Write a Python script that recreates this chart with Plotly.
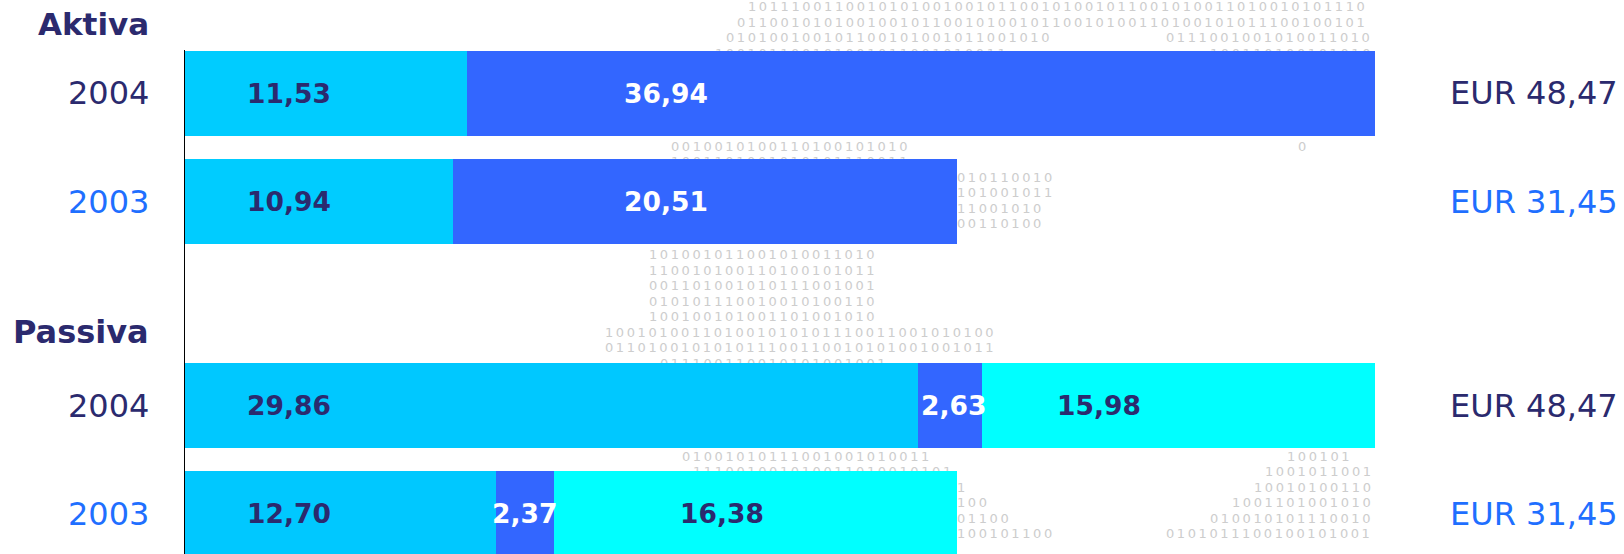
import math
import plotly.graph_objects as go

# ---------------- data ----------------
groups = ["Aktiva", "Passiva"]
years = ["2004", "2003"]

aktiva_seg1 = [11.53, 10.94]
aktiva_seg2 = [36.94, 20.51]

passiva_seg1 = [29.86, 12.70]
passiva_seg2 = [2.63, 2.37]
passiva_seg3 = [15.98, 16.38]

# ---------------- styles ----------------
NAVY = "#2B2A6E"
BLUE_TXT = "#1F6FFF"
year_colors = [NAVY, BLUE_TXT]
C_LIGHT = "#00CCFF"
C_LIGHT_P = "#00C8FF"
C_BLUE = "#3366FF"
C_CYAN = "#00FFFF"
FONT = "DejaVu Sans"

# label offsets (px) from segment start, per group / segment / year
label_dx = {
    "Aktiva": [[61, 61], [155, 169]],
    "Passiva": [[61, 61], [1, -6], [73, 124]],
}
label_white = {
    "Aktiva": [False, True],
    "Passiva": [False, True, False],
}
heading_dy = {"Aktiva": -0.64, "Passiva": -0.68}
heading_size = {"Aktiva": 31, "Passiva": 32}

group_segments = {
    "Aktiva": [(aktiva_seg1, C_LIGHT), (aktiva_seg2, C_BLUE)],
    "Passiva": [(passiva_seg1, C_LIGHT_P), (passiva_seg2, C_BLUE), (passiva_seg3, C_CYAN)],
}

GROUP_STEP = 2.885   # row units between the first rows of the two groups
BAR_W = 0.785
Y_TOP, Y_BOTTOM = -0.8606, 4.255
PX_X0, PX_X1 = 184, 1375      # base (pixel-like) x axis range = plot area
PX_H = 554


def fmt(v):
    return f"{v:.2f}".replace(".", ",")


group_pos = {gname: [i + g * GROUP_STEP for i in range(len(years))] for g, gname in enumerate(groups)}
totals = {gname: [sum(v[i] for v, _ in group_segments[gname]) for i in range(len(years))] for gname in groups}
max_total = max(max(t) for t in totals.values())

fig = go.Figure()

# ---------------- watermark (binary-digit euro sign) on base subplot ----------------
WM_CX, WM_CY = 1110, 287
WM_RXO, WM_RYO = 460, 456
WM_RXI, WM_RYI = 230, 256
WM_OPEN = math.radians(35)
BITS = "1001010011010010101011100110010101001001011001010010110010100110100101011100"
THIN = "\u2009"

# bar rectangles in base-axis units (used only to skip watermark digits hidden by bars)
hidden = []
for gname in groups:
    for i in range(len(years)):
        yc = (group_pos[gname][i] - Y_TOP) / (Y_BOTTOM - Y_TOP) * PX_H
        hh = BAR_W / 2 / (Y_BOTTOM - Y_TOP) * PX_H
        xr = PX_X0 + totals[gname][i] / max_total * (PX_X1 - PX_X0)
        hidden.append((PX_X0, xr, yc - hh, yc + hh))


def in_euro(px, py):
    dx, dy = px - WM_CX, py - WM_CY
    ring = ((dx / WM_RXO) ** 2 + (dy / WM_RYO) ** 2 <= 1
            and (dx / WM_RXI) ** 2 + (dy / WM_RYI) ** 2 >= 1)
    if ring and dx > 0 and abs(math.atan2(dy, dx)) < WM_OPEN:
        ring = False
    bar_a = 165 <= py <= 240 and 600 <= px <= 1062 - (py - 165) * 0.3
    bar_b = 330 <= py <= 360 and 610 <= px <= 1000
    return (ring or bar_a or bar_b) and px <= 1370


def is_hidden(x0, x1, py):
    for (a, b, c, d) in hidden:
        if x0 >= a and x1 <= b + 2 and py - 5 >= c and py + 5 <= d:
            return True
    return False


wm_x, wm_y, wm_t = [], [], []
CHAR_W = 11
k = 0
py = 8.0
while py < 548:
    cells = [550 + CHAR_W * i for i in range(int((1370 - 550) / CHAR_W) + 1)]
    run_start, run_len = None, 0
    off = (k * 7) % len(BITS)
    for cx in cells + [None]:
        inside = (cx is not None and in_euro(cx + CHAR_W / 2, py)
                  and not is_hidden(cx, cx + CHAR_W, py))
        if inside:
            if run_start is None:
                run_start, run_len = cx, 0
            run_len += 1
        elif run_start is not None:
            i0 = off + (run_start - 550) // CHAR_W
            wm_x.append(run_start)
            wm_y.append(py)
            wm_t.append(THIN.join((BITS * 4)[i0:i0 + run_len]))
            run_start = None
    k += 1
    py += 15.5

fig.add_trace(go.Scatter(
    x=wm_x, y=wm_y, text=wm_t, mode="text", textposition="middle right",
    textfont=dict(family="DejaVu Sans", size=13, color="#CDCDCD"),
    cliponaxis=False, hoverinfo="skip", xaxis="x", yaxis="y", showlegend=False,
))

# ---------------- bars ----------------
annotations = []
for gname in groups:
    ypos = group_pos[gname]
    segs = group_segments[gname]
    for s, (vals, col) in enumerate(segs):
        fig.add_trace(go.Bar(
            x=vals, y=ypos, orientation="h", width=BAR_W,
            marker=dict(color=col, line=dict(width=0)),
            xaxis="x2", yaxis="y2", hoverinfo="skip", showlegend=False,
        ))
    for i, yr in enumerate(years):
        start = 0.0
        for s, (vals, col) in enumerate(segs):
            annotations.append(dict(
                x=start, y=ypos[i], xref="x2", yref="y2", xanchor="left", yanchor="middle",
                xshift=label_dx[gname][s][i], text=fmt(vals[i]), showarrow=False,
                font=dict(family=FONT, size=26.5, color="white" if label_white[gname][s] else NAVY,
                          weight="bold"),
            ))
            start += vals[i]
        annotations.append(dict(
            x=0, y=ypos[i], xref="paper", yref="y2", xanchor="right", yanchor="middle",
            xshift=-33, text=yr, showarrow=False,
            font=dict(family=FONT, size=32, color=year_colors[i]),
        ))
        annotations.append(dict(
            x=1, y=ypos[i], xref="paper", yref="y2", xanchor="left", yanchor="middle",
            xshift=73, text="EUR " + fmt(totals[gname][i]), showarrow=False,
            font=dict(family=FONT, size=32, color=year_colors[i]),
        ))
    annotations.append(dict(
        x=0, y=ypos[0] + heading_dy[gname], xref="paper", yref="y2", xanchor="right",
        yanchor="middle", xshift=-33, text="<b>" + gname + "</b>", showarrow=False,
        font=dict(family=FONT, size=heading_size[gname], color=NAVY),
    ))

# vertical axis line (starts at the top of the first bar, runs to the bottom)
shapes = [dict(type="line", xref="x2", yref="y2", x0=0, x1=0,
               y0=-BAR_W / 2 - 0.006, y1=Y_BOTTOM, line=dict(color="black", width=2), layer="above")]

fig.update_layout(
    width=1624, height=554,
    margin=dict(l=PX_X0, r=1624 - PX_X1, t=0, b=0, pad=0),
    paper_bgcolor="white", plot_bgcolor="rgba(0,0,0,0)",
    barmode="stack", showlegend=False,
    annotations=annotations, shapes=shapes,
    xaxis=dict(range=[PX_X0, PX_X1], visible=False, fixedrange=True),
    yaxis=dict(range=[PX_H, 0], visible=False, fixedrange=True),
    xaxis2=dict(range=[0, max_total], overlaying="x", anchor="y2", visible=False, fixedrange=True),
    yaxis2=dict(range=[Y_BOTTOM, Y_TOP], overlaying="y", anchor="x2", visible=False,
                fixedrange=True),
)

fig.write_html("out.html", config={"displayModeBar": False},
               post_script="document.body.style.margin='0px';document.body.style.overflow='hidden';")
